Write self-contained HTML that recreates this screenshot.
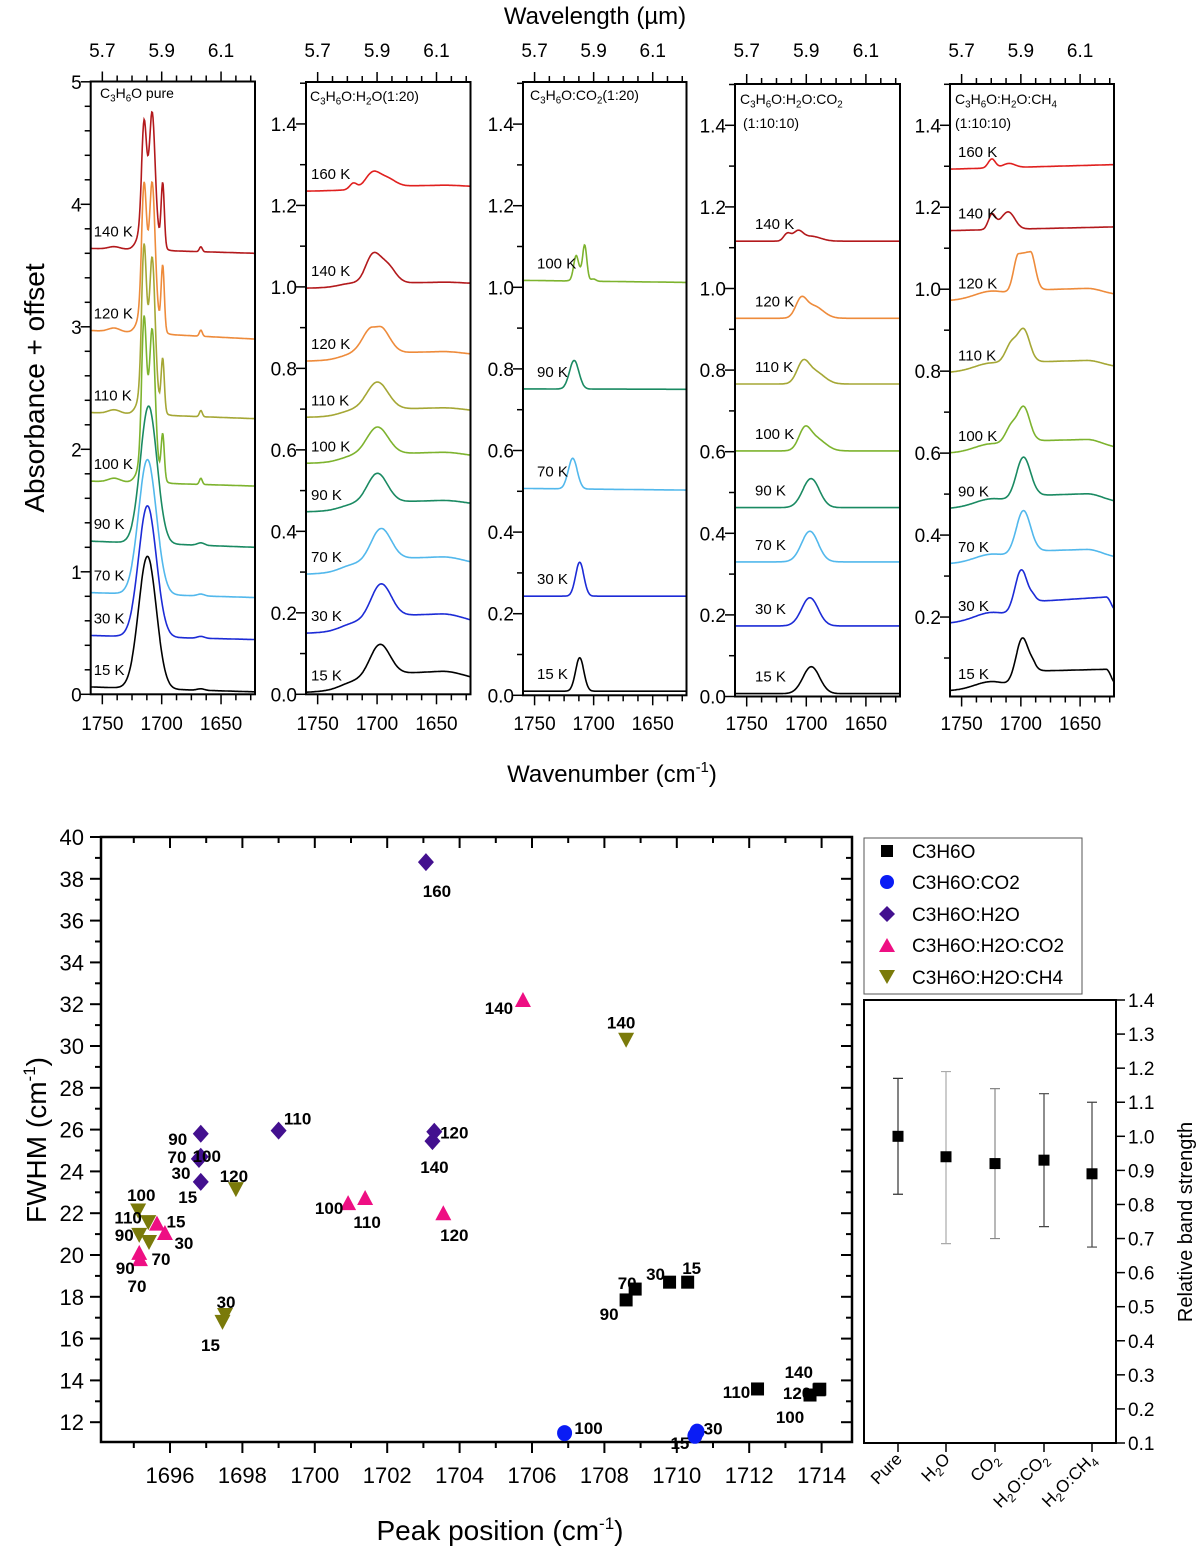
<!DOCTYPE html>
<html><head><meta charset="utf-8"><title>Acetone C=O band figure</title>
<style>
html,body{margin:0;padding:0;background:#fff;}
svg{display:block;font-family:"Liberation Sans",Arial,sans-serif;}
</style></head>
<body>
<svg id="fig" width="1200" height="1551" viewBox="0 0 1200 1551" xmlns="http://www.w3.org/2000/svg">
<rect width="1200" height="1551" fill="#fff"/>
<g id="top"></g>
<g id="scatter"></g>
<g id="strength"></g>

<text x="595" y="24" font-size="24" text-anchor="middle">Wavelength (µm)</text>
<text x="612" y="782" font-size="24" text-anchor="middle">Wavenumber (cm<tspan dy="-10" font-size="15">-1</tspan><tspan dy="10">)</tspan></text>
<text transform="translate(44,388) rotate(-90)" font-size="28" text-anchor="middle">Absorbance + offset</text>

<g font-size="14">
<text class="chem" x="100" y="98">C3H6O pure</text>
<text class="chem" x="310" y="101">C3H6O:H2O(1:20)</text>
<text class="chem" x="530" y="100">C3H6O:CO2(1:20)</text>
<text class="chem" x="740" y="104">C3H6O:H2O:CO2</text>
<text x="743" y="128">(1:10:10)</text>
<text class="chem" x="955" y="104">C3H6O:H2O:CH4</text>
<text x="955" y="128">(1:10:10)</text>
</g>

<text transform="translate(46,1140) rotate(-90)" font-size="28" text-anchor="middle">FWHM (cm<tspan dy="-11" font-size="17">-1</tspan><tspan dy="11">)</tspan></text>
<text x="500" y="1540" font-size="28" text-anchor="middle">Peak position (cm<tspan dy="-11" font-size="17">-1</tspan><tspan dy="11">)</tspan></text>
<text transform="translate(1192,1222) rotate(-90)" font-size="20" text-anchor="middle">Relative band strength</text>

<g>
<rect x="864" y="838" width="218" height="156" fill="#fff" stroke="#555" stroke-width="1"/>
<g font-size="19">
<g><rect x="881" y="845" width="12" height="12" fill="#000"/><text class="chem" x="912" y="858">C3H6O</text></g>
<g><circle cx="887" cy="882" r="7" fill="#0a1cf5"/><text class="chem" x="912" y="889">C3H6O:CO2</text></g>
<g><path d="M887 906 L895 914 L887 922 L879 914 Z" fill="#43108f"/><text class="chem" x="912" y="921">C3H6O:H2O</text></g>
<g><path d="M887 938 L895 952 L879 952 Z" fill="#ee0f83"/><text class="chem" x="912" y="952">C3H6O:H2O:CO2</text></g>
<g><path d="M879 970 L895 970 L887 984 Z" fill="#7a7a0a"/><text class="chem" x="912" y="984">C3H6O:H2O:CH4</text></g>
</g>
</g>
</svg>

<script>
// ================= DATA: spectra =================
const pureTemps = ['15 K','30 K','70 K','90 K','100 K','110 K','120 K','140 K'];
const pureBase = [[0.06,0.02],[0.48,0.447],[0.83,0.79],[1.25,1.2],[1.74,1.7],[2.3,2.25],[2.97,2.9],[3.64,3.6]];
const purePeaks = [
 [[1712,1.08,7.5],[1667,0.012,3]],
 [[1712,1.07,7.5],[1667,0.015,3]],
 [[1712,1.1,7.5],[1667,0.015,3]],
 [[1711,1.12,7],[1667,0.02,3]],
 [[1711,0.35,6],[1714.9,1.07,2],[1707.9,0.95,2.3],[1699.1,0.36,1.3],[1667,0.05,1.2],[1740,0.03,5]],
 [[1711,0.35,6],[1714.9,1.1,2],[1707.9,0.98,2.3],[1699.1,0.42,1.3],[1667,0.05,1.2],[1740,0.03,5]],
 [[1711,0.35,6],[1714.9,0.94,2],[1707.9,0.93,2.3],[1699.1,0.52,1.3],[1667,0.05,1.2],[1740,0.03,5]],
 [[1711,0.35,6],[1714.9,0.77,2],[1707.9,0.82,2.3],[1699.1,0.51,1.3],[1667,0.04,1.2],[1740,0.02,5]]
];
const h2oTemps = ['15 K','30 K','70 K','90 K','100 K','110 K','120 K','140 K','160 K'];
const h2oBase = [[0.005,0.025],[0.15,0.165],[0.295,0.31],[0.448,0.46],[0.567,0.578],[0.68,0.69],[0.818,0.828],[0.997,1.005],[1.235,1.243]];
const h2oPeaks = [
 [[1698,0.08,8.5],[1665,0.035,22,18],[1722,0.012,10]],
 [[1697,0.085,8.5],[1665,0.035,22,18],[1722,0.012,10]],
 [[1697,0.08,8.5],[1665,0.03,22,18],[1722,0.012,10]],
 [[1700,0.075,8.5],[1665,0.018,22,18],[1722,0.01,10]],
 [[1700,0.07,9],[1665,0.018,22,18],[1722,0.01,10]],
 [[1700,0.07,9],[1665,0.015,22,18],[1722,0.01,10]],
 [[1701,0.068,8,3],[1665,0.015,22,18],[1722,0.01,10]],
 [[1704,0.065,6],[1692,0.045,7],[1665,0.008,22,18],[1722,0.008,10]],
 [[1704,0.035,6],[1692,0.02,7],[1720,0.015,3],[1665,0.008,22,18]]
];
const co2Temps = ['15 K','30 K','70 K','90 K','100 K'];
const co2Base = [[0.01,0.01],[0.243,0.243],[0.507,0.503],[0.751,0.75],[1.017,1.012]];
const co2Peaks = [
 [[1711.8,0.082,3.5]],
 [[1711.8,0.083,3.5]],
 [[1717.7,0.075,3.8]],
 [[1716.5,0.07,4]],
 [[1715,0.05,2],[1707.5,0.075,1.7],[1711,0.02,4],[1700,0.005,2]]
];
const h2oco2Temps = ['15 K','30 K','70 K','90 K','100 K','110 K','120 K','140 K'];
const h2oco2Base = [[0.007,0.007],[0.173,0.173],[0.33,0.33],[0.463,0.463],[0.602,0.602],[0.766,0.766],[0.927,0.927],[1.116,1.116]];
const h2oco2Peaks = [
 [[1695.8,0.066,7]],
 [[1697,0.069,7]],
 [[1697,0.075,7]],
 [[1696,0.071,7]],
 [[1701.5,0.045,5],[1692,0.03,8]],
 [[1703,0.045,5],[1693,0.03,8]],
 [[1704.5,0.04,4.5],[1694,0.03,8]],
 [[1716,0.018,3],[1707,0.022,4],[1696,0.012,8]]
];
const h2och4Temps = ['15 K','30 K','70 K','90 K','100 K','110 K','120 K','140 K','160 K'];
const h2och4Base = [[0.02,0.03],[0.185,0.21],[0.33,0.342],[0.465,0.478],[0.6,0.61],[0.797,0.808],[0.972,0.984],[1.143,1.152],[1.293,1.304]];
const h2och4Peaks = [
 [[1698.6,0.12,5.5],[1658,0.043,4,30],[1725,0.02,14]],
 [[1699.5,0.115,5.5],[1658,0.04,4,30],[1725,0.02,14]],
 [[1698,0.105,6],[1665,0.025,14,20],[1725,0.02,14]],
 [[1698,0.1,6],[1665,0.025,14,20],[1725,0.02,14]],
 [[1697.5,0.085,5],[1708,0.045,5],[1665,0.025,14,20],[1725,0.02,14]],
 [[1697.5,0.08,5],[1708,0.05,5],[1665,0.02,14,20],[1725,0.02,14]],
 [[1697,0.095,4,5],[1665,0.02,14,20],[1725,0.02,14]],
 [[1724.5,0.035,3],[1709.5,0.035,5],[1716,0.015,5]],
 [[1724.5,0.022,3],[1710,0.01,5]]
];
const wnTicks = [1750,1700,1650];
const wlTickLabels = ['5.7','5.9','6.1'];

// ================= DATA: scatter =================
const pureT = ['15','30','70','90','100','110','120','140'];
const purePos = [1710.3,1709.8,1708.85,1708.6,1713.68,1712.23,1713.93,1713.95];
const pureFwhm = [18.7,18.7,18.37,17.85,13.3,13.59,13.55,13.58];
const co2T = ['15','30','100'];
const co2Pos = [1710.5,1710.56,1706.9];
const co2Fwhm = [11.35,11.55,11.48];
const h2oT = ['15','30','70','90','100','110','120','140','160'];
const h2oPos = [1696.85,1696.8,1696.8,1696.85,1696.85,1699.0,1703.3,1703.25,1703.07];
const h2oFwhm = [23.5,24.6,24.6,25.8,24.7,25.95,25.9,25.45,38.8];
const h2oco2T = ['15','30','70','90','100','110','120','140'];
const h2oco2Pos = [1695.64,1695.86,1695.17,1695.15,1700.92,1701.39,1703.55,1705.75];
const h2oco2Fwhm = [21.5,21.05,19.8,20.1,22.48,22.73,22.0,32.2];
const h2och4T = ['15','30','70','90','100','110','120','140'];
const h2och4Pos = [1697.45,1697.52,1695.42,1695.15,1695.4,1695.12,1697.82,1708.6];
const h2och4Fwhm = [16.8,17.13,20.62,20.96,21.57,22.13,23.15,30.3];
const xTicks = [1696,1698,1700,1702,1704,1706,1708,1710,1712,1714];
const yTicks = [12,14,16,18,20,22,24,26,28,30,32,34,36,38,40];

// ================= DATA: band strength =================
const bsCategories = ['Pure','H2O','CO2','H2O:CO2','H2O:CH4'];
const bsValues = [1.0,0.94,0.92,0.93,0.89];
const bsUpper = [1.17,1.19,1.14,1.125,1.10];
const bsLower = [0.83,0.685,0.70,0.735,0.675];
const bsTicks = [0.1,0.2,0.3,0.4,0.5,0.6,0.7,0.8,0.9,1.0,1.1,1.2,1.3,1.4];

// ================= rendering =================
const NS='http://www.w3.org/2000/svg';
function mk(tag, attrs, parent){const e=document.createElementNS(NS,tag);for(const k in attrs)e.setAttribute(k,attrs[k]);if(parent)parent.appendChild(e);return e;}
function chem(el,str){
 el.textContent='';
 const fs=parseFloat(el.getAttribute('font-size')||(el.parentNode&&el.parentNode.getAttribute&&el.parentNode.getAttribute('font-size'))||16);
 const parts=str.split(/(?<=[A-Z])(\d)/);
 let sub=false;
 parts.forEach(p=>{
  if(p==='')return;
  const isSub=/^\d$/.test(p)&&parts.indexOf(p)>=0;
  const t=document.createElementNS(NS,'tspan');
  if(/^\d$/.test(p)){t.setAttribute('dy',(fs*0.25).toFixed(1));t.setAttribute('font-size',(fs*0.7).toFixed(1));sub=true;}
  else if(sub){t.setAttribute('dy',(-fs*0.25).toFixed(1));sub=false;}
  t.textContent=p;el.appendChild(t);
 });
}
document.querySelectorAll('text.chem').forEach(el=>{
 let fs=el.getAttribute('font-size')||el.parentNode.getAttribute('font-size');
 el.setAttribute('font-size',fs);
 chem(el,el.textContent);
});

const tempColors={'15 K':'#000000','30 K':'#1c2bd6','70 K':'#52b8ec','90 K':'#1a8a62','100 K':'#7db32e','110 K':'#a5a735','120 K':'#ee8b3b','140 K':'#b3191c','160 K':'#e0201f'};
const WL=1759.8, WR=1621.4;
const panels=[
 {key:'pure',temps:pureTemps,base:pureBase,peaks:purePeaks,left:90.7,right:255,top:81.5,bottom:694.3,y0:694.3,ys:122.5,ticks:[0,1,2,3,4,5],minor:0.2,dec:0,ldx:3},
 {key:'h2o',temps:h2oTemps,base:h2oBase,peaks:h2oPeaks,left:306,right:470.5,top:82,bottom:694.3,y0:694.3,ys:407.4,ticks:[0,0.2,0.4,0.6,0.8,1.0,1.2,1.4],minor:0.1,dec:1,ldx:5},
 {key:'co2',temps:co2Temps,base:co2Base,peaks:co2Peaks,left:523,right:686.5,top:82,bottom:695.3,y0:695.3,ys:408,ticks:[0,0.2,0.4,0.6,0.8,1.0,1.2,1.4],minor:0.1,dec:1,ldx:14},
 {key:'h2o-co2',temps:h2oco2Temps,base:h2oco2Base,peaks:h2oco2Peaks,left:735,right:900,top:84,bottom:696.5,y0:696.5,ys:408,ticks:[0,0.2,0.4,0.6,0.8,1.0,1.2,1.4],minor:0.1,dec:1,ldx:20},
 {key:'h2o-ch4',temps:h2och4Temps,base:h2och4Base,peaks:h2och4Peaks,left:950,right:1114,top:84,bottom:696.5,y0:699,ys:409.8,ticks:[0.2,0.4,0.6,0.8,1.0,1.2,1.4],minor:0.1,dec:1,ldx:8}
];
function comp(x,p){const c=p[0],h=p[1],s=p[2],f=p[3]||0;let d=Math.abs(x-c)-f;if(d<0)d=0;return h*Math.exp(-d*d/(2*s*s));}

const topG=document.getElementById('top');
panels.forEach(P=>{
 const g=mk('g',{},topG);
 
 
 const X=w=>P.left+(WL-w)*(P.right-P.left)/(WL-WR);
 const Y=v=>P.y0-v*P.ys;
 P.temps.forEach((t,i)=>{
  let d='';
  for(let w=WL;w>=WR-0.01;w-=0.5){
   const f=(WL-w)/(WL-WR);
   let v=P.base[i][0]+(P.base[i][1]-P.base[i][0])*f;
   P.peaks[i].forEach(p=>{v+=comp(w,p);});
   d+=(d?'L':'M')+X(w).toFixed(1)+' '+Y(v).toFixed(1);
  }
  const path=mk('path',{d:d,fill:'none',stroke:tempColors[t],'stroke-width':1.6},g);
  
  
  const lab=mk('text',{x:P.left+P.ldx,y:Y(P.base[i][0])-12,'font-size':15,fill:'#000'},g);
  
  
  lab.textContent=t;
 });
 const fr=mk('rect',{x:P.left,y:P.top,width:P.right-P.left,height:P.bottom-P.top,fill:'none',stroke:'#000','stroke-width':2},g);
 
 
 const vmin=(P.y0-P.bottom)/P.ys, vmax=(P.y0-P.top)/P.ys;
 for(let v=Math.ceil(vmin/P.minor-1e-6)*P.minor; v<=vmax+1e-6; v+=P.minor){
  const major=P.ticks.some(t=>Math.abs(t-v)<1e-6);
  mk('line',{x1:P.left,x2:P.left-(major?10:6),y1:Y(v),y2:Y(v),stroke:'#000','stroke-width':1.5},g);
 }
 P.ticks.forEach(v=>{
  const tl=mk('text',{x:P.left-9,y:Y(v)+7,'font-size':19,'text-anchor':'end'},g);
  
  
  tl.textContent=v.toFixed(P.dec);
 });
 for(let w=1750;w>=1625;w-=12.5){
  const major=(w%50===0);
  mk('line',{x1:X(w),x2:X(w),y1:P.bottom,y2:P.bottom+(major?10:6),stroke:'#000','stroke-width':1.5},g);
  mk('line',{x1:X(w),x2:X(w),y1:P.top,y2:P.top-(major?10:6),stroke:'#000','stroke-width':1.5},g);
 }
 wnTicks.forEach((w,k)=>{
  const b=mk('text',{x:X(w),y:730,'font-size':19,'text-anchor':'middle'},g);
  
  
  b.textContent=String(w);
  const t=mk('text',{x:X(w),y:57,'font-size':19,'text-anchor':'middle'},g);
  
  
  t.textContent=wlTickLabels[k];
 });
});

// ---------- scatter ----------
const sc=document.getElementById('scatter');
const SL=101,SR=852,ST=837,SB=1442;
const SX=p=>170+(p-1696)*36.2;
const SY=v=>837+(40-v)*20.9;
const fr2=mk('rect',{x:SL,y:ST,width:SR-SL,height:SB-ST,fill:'none',stroke:'#000','stroke-width':2.5},sc);


for(let v=12;v<=40;v++){
 const major=v%2===0;
 mk('line',{x1:SL,x2:SL-(major?11:6),y1:SY(v),y2:SY(v),stroke:'#000','stroke-width':2},sc);
 mk('line',{x1:SR,x2:SR-(major?11:6),y1:SY(v),y2:SY(v),stroke:'#000','stroke-width':2},sc);
}
yTicks.forEach(v=>{
 const t=mk('text',{x:84,y:SY(v)+8,'font-size':22,'text-anchor':'end'},sc);
 
 
 t.textContent=String(v);
});
for(let p=1695;p<=1714;p++){
 const major=p%2===0;
 mk('line',{x1:SX(p),x2:SX(p),y1:SB,y2:SB+(major?11:6),stroke:'#000','stroke-width':2},sc);
 mk('line',{x1:SX(p),x2:SX(p),y1:ST,y2:ST+(major?11:6),stroke:'#000','stroke-width':2},sc);
}
xTicks.forEach(p=>{
 const t=mk('text',{x:SX(p),y:1483,'font-size':22,'text-anchor':'middle'},sc);
 
 
 t.textContent=String(p);
});
function marker(shape,x,y,color){
 if(shape==='square')return mk('rect',{x:x-6.5,y:y-6.5,width:13,height:13,fill:color},sc);
 if(shape==='circle')return mk('ellipse',{cx:x,cy:y,rx:7.5,ry:8,fill:color},sc);
 if(shape==='diamond')return mk('path',{d:`M${x} ${y-9}L${x+8} ${y}L${x} ${y+9}L${x-8} ${y}Z`,fill:color},sc);
 if(shape==='up')return mk('path',{d:`M${x} ${y-8}L${x+8} ${y+7}L${x-8} ${y+7}Z`,fill:color},sc);
 return mk('path',{d:`M${x-8} ${y-7}L${x+8} ${y-7}L${x} ${y+8}Z`,fill:color},sc);
}
const series=[
 {key:'pure',shape:'square',color:'#000',T:pureT,P:purePos,F:pureFwhm,off:[[4,-14],[-14,-8],[-8,-6],[-17,14],[-20,22],[-21,3],[-22,3],[-21,-17]]},
 {key:'co2',shape:'circle',color:'#0a1cf5',T:co2T,P:co2Pos,F:co2Fwhm,off:[[-15,7],[16,-3],[24,-5]]},
 {key:'h2o',shape:'diamond',color:'#43108f',T:h2oT,P:h2oPos,F:h2oFwhm,off:[[-13,15],[-18,14],[-22,-2],[-23,5],[6,-1],[19,-12],[20,1],[2,26],[11,29]]},
 {key:'h2o-co2',shape:'up',color:'#ee0f83',T:h2oco2T,P:h2oco2Pos,F:h2oco2Fwhm,off:[[19,-2],[19,10],[-3,27],[-14,15],[-19,5],[2,24],[11,22],[-24,8]]},
 {key:'h2o-ch4',shape:'down',color:'#7a7a0a',T:h2och4T,P:h2och4Pos,F:h2och4Fwhm,off:[[-12,23],[1,-13],[12,17],[-15,0],[-7,-27],[-10,7],[-2,-13],[-5,-17]]}
];
series.forEach(S=>{
 S.T.forEach((t,i)=>{
  const x=SX(S.P[i]),y=SY(S.F[i]);
  const m=marker(S.shape,x,y,S.color);
  
  
  const o=S.off[i]||[0,-12];
  const l=mk('text',{x:x+o[0],y:y+o[1]+6,'font-size':17,'font-weight':'bold','text-anchor':'middle'},sc);
  
  
  l.textContent=t;
 });
});

// ---------- band strength ----------
const bs=document.getElementById('strength');
const BL=864,BR=1116,BT=1000,BB=1443;
const BY=v=>BB-(v-0.1)*(BB-BT)/1.3;
const bx=[898,946,995,1044,1092];
const fr3=mk('rect',{x:BL,y:BT,width:BR-BL,height:BB-BT,fill:'none',stroke:'#000','stroke-width':2},bs);


bsTicks.forEach(v=>{
 mk('line',{x1:BR,x2:BR+9,y1:BY(v),y2:BY(v),stroke:'#000','stroke-width':1.5},bs);
 const t=mk('text',{x:BR+12,y:BY(v)+7,'font-size':19},bs);
 
 
 t.textContent=v.toFixed(1);
});
const barColors=['#333','#aaa','#888','#444','#444'];
bsCategories.forEach((c,i)=>{
 const x=bx[i];
 mk('line',{x1:x,x2:x,y1:BB,y2:BB+9,stroke:'#000','stroke-width':1.5},bs);
 const eb=mk('path',{d:`M${x} ${BY(bsUpper[i])}V${BY(bsLower[i])}M${x-5} ${BY(bsUpper[i])}H${x+5}M${x-5} ${BY(bsLower[i])}H${x+5}`,stroke:barColors[i],'stroke-width':1.2,fill:'none'},bs);
 
 
 const sq=mk('rect',{x:x-5.5,y:BY(bsValues[i])-5.5,width:11,height:11,fill:'#000'},bs);
 
 
 const lab=mk('text',{transform:`translate(${x+5},${BB+17}) rotate(-45)`,'font-size':17,'text-anchor':'end'},bs);
 
 
 chem(lab,c);
});
</script>
</body></html>
